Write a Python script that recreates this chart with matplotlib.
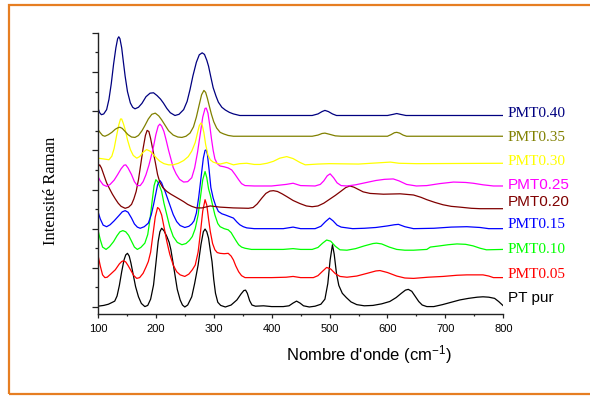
import matplotlib
matplotlib.use('Agg')
import matplotlib.pyplot as plt
from matplotlib.patches import Rectangle
from matplotlib.ticker import MultipleLocator

plt.rcParams['mathtext.default'] = 'regular'

# spectres Raman, intensite avec decalage vertical
pt_x = [100, 110, 118, 125, 129, 133, 137, 141, 145, 148, 151, 154, 157, 161, 165, 170, 175, 181,
        186, 191, 196, 200, 204, 207, 210, 214, 219, 223, 226, 230, 233, 237, 242, 246, 250, 255,
        262, 267, 273, 278, 282, 285, 288, 291, 294, 297, 300, 303, 307, 312, 320, 330, 340, 347,
        352, 355, 358, 362, 366, 372, 386, 400, 420, 430, 437, 443, 449, 455, 465, 475, 485, 492,
        497, 501, 505, 508, 512, 516, 522, 529, 537, 547, 560, 575, 590, 604, 615, 624, 631, 636,
        642, 648, 654, 660, 668, 680, 695, 710, 725, 740, 755, 765, 775, 785, 792, 800]
pt_y = [0.02, 0.04, 0.07, 0.12, 0.15, 0.28, 0.55, 0.90, 1.20, 1.33, 1.37, 1.30, 1.12, 0.82, 0.52,
        0.26, 0.09, 0.01, 0.04, 0.20, 0.56, 1.10, 1.67, 1.92, 2.01, 1.95, 1.80, 1.65, 1.46, 1.10,
        0.82, 0.45, 0.18, 0.05, 0.00, 0.05, 0.26, 0.60, 1.07, 1.60, 1.92, 1.99, 1.92, 1.76, 1.45,
        1.16, 0.70, 0.35, 0.12, 0.04, 0.00, 0.05, 0.18, 0.33, 0.42, 0.43, 0.35, 0.16, 0.05, 0.02,
        0.03, 0.01, 0.01, 0.03, 0.10, 0.15, 0.10, 0.03, 0.00, 0.02, 0.07, 0.20, 0.60, 1.20, 1.59,
        1.35, 0.85, 0.55, 0.35, 0.24, 0.13, 0.06, 0.03, 0.04, 0.08, 0.14, 0.24, 0.35, 0.43, 0.45,
        0.40, 0.27, 0.14, 0.05, 0.01, 0.01, 0.06, 0.12, 0.18, 0.22, 0.25, 0.26, 0.25, 0.22, 0.14,
        0.03]

p05_x = [100, 104, 108, 112, 116, 122, 130, 137, 141, 144, 148, 152, 157, 162, 167, 172, 178, 183,
         187, 191, 195, 199, 203, 206, 210, 214, 219, 224, 230, 236, 242, 250, 257, 263, 268, 273,
         277, 281, 285, 288, 291, 294, 298, 302, 306, 311, 318, 325, 330, 334, 338, 343, 348, 354,
         380, 400, 425, 437, 450, 472, 480, 487, 495, 502, 510, 518, 530, 547, 565, 580, 587, 600,
         616, 630, 645, 670, 696, 720, 737, 765, 775, 783, 800]
p05_y = [1.33, 1.05, 0.82, 0.75, 0.76, 0.84, 0.95, 1.10, 1.16, 1.18, 1.15, 1.06, 0.93, 0.80, 0.73,
         0.75, 0.86, 1.02, 1.16, 1.40, 1.85, 2.30, 2.54, 2.50, 2.35, 2.05, 1.67, 1.35, 1.07, 0.90,
         0.82, 0.78, 0.84, 0.95, 1.07, 1.40, 1.90, 2.45, 2.74, 2.60, 2.25, 1.93, 1.62, 1.46, 1.39,
         1.37, 1.36, 1.37, 1.30, 1.20, 1.05, 0.90, 0.80, 0.75, 0.75, 0.75, 0.76, 0.78, 0.75, 0.75,
         0.80, 0.90, 1.01, 0.97, 0.85, 0.78, 0.76, 0.79, 0.86, 0.92, 0.93, 0.88, 0.79, 0.74, 0.73,
         0.76, 0.78, 0.81, 0.82, 0.82, 0.79, 0.75, 0.75]

p10_x = [100, 104, 108, 114, 120, 127, 133, 138, 143, 148, 153, 158, 163, 168, 174, 181, 186, 190,
         194, 197, 200, 203, 207, 210, 214, 219, 224, 230, 237, 245, 252, 258, 263, 268, 273, 277,
         281, 285, 288, 291, 294, 298, 302, 307, 311, 318, 325, 330, 334, 339, 343, 348, 354, 365,
         420, 437, 450, 470, 480, 488, 495, 502, 510, 518, 530, 545, 560, 575, 581, 590, 603, 616,
         630, 645, 668, 674, 690, 705, 720, 735, 748, 760, 771, 800]
p10_y = [1.97, 1.72, 1.53, 1.47, 1.54, 1.67, 1.82, 1.92, 1.95, 1.92, 1.83, 1.68, 1.53, 1.47, 1.52,
         1.63, 1.85, 2.25, 2.75, 3.10, 3.25, 3.20, 3.07, 2.95, 2.65, 2.35, 2.05, 1.80, 1.65, 1.59,
         1.62, 1.70, 1.80, 2.00, 2.35, 2.80, 3.25, 3.46, 3.30, 3.02, 2.86, 2.60, 2.35, 2.13, 2.05,
         2.00, 1.97, 1.90, 1.80, 1.68, 1.59, 1.53, 1.50, 1.47, 1.47, 1.49, 1.47, 1.47, 1.52, 1.63,
         1.71, 1.68, 1.55, 1.46, 1.45, 1.49, 1.56, 1.62, 1.63, 1.61, 1.53, 1.47, 1.45, 1.45, 1.47,
         1.53, 1.56, 1.59, 1.61, 1.60, 1.56, 1.50, 1.46, 1.47]

p15_x = [100, 104, 109, 115, 121, 128, 136, 142, 147, 152, 158, 163, 168, 173, 180, 187, 192, 196,
         200, 203, 207, 210, 213, 216, 220, 225, 230, 236, 242, 250, 257, 262, 266, 270, 274, 278,
         282, 285, 287, 289, 292, 295, 299, 303, 308, 314, 320, 327, 334, 340, 345, 351, 357, 370,
         420, 437, 450, 475, 485, 493, 500, 506, 513, 520, 540, 560, 580, 600, 612, 619, 630, 645,
         680, 710, 737, 760, 775, 800]
p15_y = [2.44, 2.25, 2.09, 2.05, 2.10, 2.20, 2.33, 2.43, 2.46, 2.42, 2.27, 2.12, 2.04, 2.01, 2.05,
         2.14, 2.35, 2.61, 2.90, 3.12, 3.23, 3.17, 3.05, 2.95, 2.78, 2.57, 2.36, 2.18, 2.08, 2.03,
         2.06, 2.12, 2.20, 2.40, 2.80, 3.30, 3.80, 4.00, 4.01, 3.90, 3.50, 3.05, 2.78, 2.60, 2.44,
         2.38, 2.35, 2.31, 2.27, 2.17, 2.10, 2.05, 2.02, 2.00, 2.00, 2.04, 2.00, 2.00, 2.06, 2.18,
         2.27, 2.20, 2.09, 2.04, 2.00, 2.01, 2.03, 2.07, 2.10, 2.11, 2.05, 2.00, 2.01, 2.04, 2.05,
         2.03, 2.00, 2.00]

p20_x = [100, 103, 106, 110, 115, 120, 125, 130, 135, 140, 147, 153, 158, 162, 166, 170, 174, 178,
         182, 185, 188, 191, 195, 199, 203, 207, 212, 219, 226, 233, 240, 248, 255, 262, 270, 280,
         294, 311, 334, 360, 368, 375, 383, 390, 397, 403, 410, 418, 426, 437, 449, 460, 470, 480,
         490, 500, 510, 520, 528, 535, 542, 550, 558, 570, 593, 622, 645, 658, 668, 682, 696, 710,
         725, 745, 760, 800]
p20_y = [3.58, 3.63, 3.55, 3.38, 3.17, 3.02, 2.88, 2.76, 2.65, 2.57, 2.52, 2.55, 2.62, 2.76, 2.95,
         3.25, 3.65, 4.05, 4.38, 4.51, 4.48, 4.30, 4.00, 3.70, 3.38, 3.18, 3.05, 2.95, 2.88, 2.82,
         2.76, 2.69, 2.62, 2.57, 2.53, 2.53, 2.58, 2.55, 2.53, 2.52, 2.54, 2.63, 2.78, 2.90, 2.96,
         2.97, 2.95, 2.89, 2.82, 2.72, 2.64, 2.58, 2.56, 2.58, 2.65, 2.75, 2.85, 2.96, 3.05, 3.09,
         3.06, 3.00, 2.94, 2.90, 2.88, 2.89, 2.86, 2.80, 2.74, 2.67, 2.61, 2.57, 2.55, 2.52, 2.51,
         2.51]

p25_x = [100, 104, 109, 115, 121, 128, 134, 140, 145, 148, 152, 158, 163, 168, 173, 178, 183, 188,
         192, 196, 200, 204, 207, 210, 214, 218, 222, 226, 230, 235, 241, 248, 255, 262, 267, 272,
         277, 281, 285, 287, 290, 293, 296, 299, 302, 306, 311, 318, 325, 331, 337, 343, 348, 354,
         370, 400, 425, 437, 450, 475, 484, 490, 496, 501, 507, 513, 520, 530, 545, 564, 580, 595,
         610, 620, 633, 650, 668, 690, 714, 735, 748, 765, 783, 800]
p25_y = [3.33, 3.22, 3.12, 3.08, 3.13, 3.24, 3.38, 3.53, 3.62, 3.63, 3.55, 3.38, 3.20, 3.10, 3.10,
         3.20, 3.38, 3.62, 3.85, 4.10, 4.40, 4.62, 4.67, 4.62, 4.48, 4.25, 4.00, 3.78, 3.56, 3.40,
         3.26, 3.19, 3.20, 3.30, 3.55, 3.95, 4.45, 4.85, 5.07, 5.08, 4.95, 4.65, 4.30, 4.00, 3.78,
         3.66, 3.60, 3.58, 3.55, 3.50, 3.38, 3.25, 3.15, 3.10, 3.09, 3.09, 3.13, 3.16, 3.10, 3.09,
         3.13, 3.22, 3.35, 3.40, 3.30, 3.17, 3.10, 3.09, 3.12, 3.18, 3.23, 3.26, 3.27, 3.22, 3.13,
         3.09, 3.10, 3.15, 3.19, 3.18, 3.16, 3.12, 3.09, 3.09]

p30_x = [100, 110, 119, 124, 128, 132, 136, 139, 141, 144, 147, 151, 156, 161, 167, 172, 178, 184,
         190, 196, 202, 207, 214, 222, 230, 239, 248, 256, 262, 268, 272, 275, 278, 280, 283, 286,
         290, 294, 299, 305, 311, 322, 334, 345, 357, 370, 380, 392, 403, 414, 426, 437, 449, 458,
         480, 500, 550, 605, 620, 650, 800]
p30_y = [3.80, 3.78, 3.76, 3.85, 4.05, 4.36, 4.65, 4.80, 4.80, 4.68, 4.53, 4.27, 4.02, 3.87, 3.80,
         3.84, 3.95, 4.02, 3.98, 3.89, 3.79, 3.72, 3.66, 3.63, 3.63, 3.67, 3.74, 3.84, 3.98, 4.20,
         4.45, 4.63, 4.70, 4.65, 4.45, 4.15, 3.88, 3.76, 3.70, 3.67, 3.65, 3.69, 3.63, 3.66, 3.67,
         3.64, 3.64, 3.67, 3.72, 3.80, 3.84, 3.79, 3.69, 3.63, 3.65, 3.66, 3.65, 3.70, 3.67, 3.66,
         3.67]

p35_x = [100, 104, 108, 112, 118, 124, 130, 135, 138, 142, 147, 152, 158, 164, 170, 176, 181, 187,
         193, 199, 205, 210, 216, 222, 230, 238, 245, 252, 259, 265, 270, 275, 279, 283, 286, 289,
         292, 296, 300, 305, 311, 317, 325, 334, 400, 470, 480, 487, 492, 500, 510, 520, 600, 606,
         612, 616, 621, 627, 633, 800]
p35_y = [4.53, 4.45, 4.38, 4.36, 4.40, 4.46, 4.54, 4.58, 4.59, 4.56, 4.48, 4.40, 4.34, 4.33, 4.38,
         4.50, 4.63, 4.80, 4.92, 4.95, 4.88, 4.78, 4.64, 4.50, 4.39, 4.34, 4.33, 4.36, 4.44, 4.60,
         4.85, 5.17, 5.42, 5.53, 5.48, 5.33, 5.15, 4.92, 4.73, 4.57, 4.46, 4.42, 4.38, 4.36, 4.36,
         4.36, 4.39, 4.43, 4.44, 4.41, 4.37, 4.36, 4.36, 4.40, 4.45, 4.46, 4.44, 4.39, 4.36, 4.36]

p40_x = [100, 103, 106, 110, 115, 119, 123, 127, 131, 134, 136, 138, 141, 144, 147, 151, 156, 160,
         164, 170, 176, 183, 190, 196, 202, 208, 213, 219, 225, 233, 240, 248, 254, 259, 264, 270,
         275, 280, 284, 288, 291, 295, 299, 304, 308, 314, 320, 327, 334, 345, 400, 470, 480, 487,
         492, 498, 505, 512, 600, 610, 616, 622, 632, 800]
p40_y = [5.08, 4.96, 4.91, 4.93, 5.04, 5.30, 5.70, 6.20, 6.62, 6.85, 6.90, 6.85, 6.62, 6.25, 5.89,
         5.50, 5.21, 5.10, 5.06, 5.10, 5.20, 5.37, 5.46, 5.47, 5.40, 5.31, 5.21, 5.07, 4.96, 4.89,
         4.92, 5.04, 5.25, 5.55, 5.90, 6.25, 6.44, 6.49, 6.45, 6.30, 6.15, 5.87, 5.60, 5.38, 5.23,
         5.10, 5.03, 4.97, 4.93, 4.89, 4.89, 4.89, 4.93, 4.99, 5.02, 4.99, 4.93, 4.89, 4.89, 4.92,
         4.94, 4.92, 4.89, 4.89]

labels = ['PT pur', 'PMT0.05', 'PMT0.10', 'PMT0.15', 'PMT0.20',
          'PMT0.25', 'PMT0.30', 'PMT0.35', 'PMT0.40']
label_y = [0.22, 0.82, 1.46, 2.10, 2.69, 3.12, 3.72, 4.34, 4.95]
colors = ['black', '#ff0000', '#00ff00', '#0000ff', '#800000',
          '#ff00ff', '#ffff00', '#808000', '#000080']
serif = [False, True, True, True, False, False, True, True, True]

series = [(pt_x, pt_y), (p05_x, p05_y), (p10_x, p10_y), (p15_x, p15_y), (p20_x, p20_y),
          (p25_x, p25_y), (p30_x, p30_y), (p35_x, p35_y), (p40_x, p40_y)]

fig = plt.figure(figsize=(5.9, 3.96), dpi=100)
ax = fig.add_axes([0.166, 0.207, 0.687, 0.710])

for (xs, ys), c in zip(series, colors):
    ax.plot(xs, ys, color=c, linewidth=0.9)

for lab, ly, c, s in zip(labels, label_y, colors, serif):
    fam = 'Liberation Serif' if s else 'Liberation Sans'
    ax.text(808, ly, lab, color=c, fontsize=11, family=fam,
            va='center', ha='left', clip_on=False)

ax.set_xlim(100, 800)
ax.set_ylim(-0.18, 7.0)
ax.xaxis.set_major_locator(MultipleLocator(100))
ax.xaxis.set_minor_locator(MultipleLocator(50))
ax.yaxis.set_major_locator(MultipleLocator(1))
ax.yaxis.set_minor_locator(MultipleLocator(0.5))
ax.set_yticklabels([])
ax.tick_params(axis='y', which='major', direction='out', length=4.5, width=0.9, color='#222222')
ax.tick_params(axis='y', which='minor', direction='out', length=2.2, width=0.9, color='#222222')
ax.tick_params(axis='x', which='major', direction='out', length=3, width=0.9, color='#222222',
               pad=4, labelsize=8)
ax.tick_params(axis='x', which='minor', direction='out', length=1.7, width=0.9, color='#222222')
for lab in ax.get_xticklabels():
    lab.set_family('Liberation Sans')

for side in ['top', 'right']:
    ax.spines[side].set_visible(False)
for side in ['left', 'bottom']:
    ax.spines[side].set_linewidth(1.0)
    ax.spines[side].set_color('#222222')

fig.text(369 / 590, 1 - 355 / 396, "Nombre d'onde (cm$^{-1}$)", fontsize=12,
         family='Liberation Sans', ha='center', va='center')
fig.text(51 / 590, 1 - 191 / 396, 'Intensité Raman', fontsize=12, family='Liberation Serif',
         rotation=90, ha='center', va='center')

# cadre orange
fig.patches.append(Rectangle((8.5 / 590, 2 / 396), 1.2, 389 / 396, transform=fig.transFigure,
                             fill=False, edgecolor='#e67e22', linewidth=1.6))

fig.savefig('out.png', dpi=100)
